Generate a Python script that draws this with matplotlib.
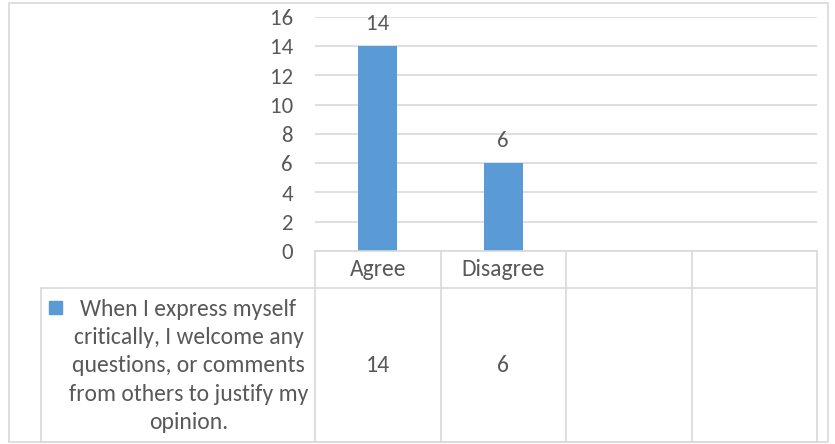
import matplotlib
matplotlib.use("Agg")
import matplotlib.pyplot as plt
from matplotlib import font_manager
from matplotlib.patches import Rectangle

categories = ["Agree", "Disagree", "", ""]
values = [14, 6]
series_name = ("When I express myself\ncritically, I welcome any\nquestions, or comments\n"
               "from others to justify my\nopinion.")
yticks = [0, 2, 4, 6, 8, 10, 12, 14, 16]

BLUE = "#5b9bd5"
GRID = "#d9d9d9"
TXT = "#595959"

installed = {f.name for f in font_manager.fontManager.ttflist}
fam = [f for f in ["Carlito", "Lato", "DejaVu Sans"] if f in installed]
plt.rcParams["font.family"] = fam

W, H = 835, 444


def frac(x0, y0, x1, y1):
    # pixel box (top-left origin) -> figure fraction rect
    return [x0 / W, 1 - y1 / H, (x1 - x0) / W, (y1 - y0) / H]


fig = plt.figure(figsize=(W / 100, H / 100), dpi=100)

# outer chart border
fig.add_artist(Rectangle((9 / W, 1 - 442 / H), (828 - 9) / W, (442 - 3) / H,
                         transform=fig.transFigure, fill=False,
                         edgecolor=GRID, lw=1.2))

# plot area
ax = fig.add_axes(frac(315, 17, 817, 251))
n = len(categories)
ax.bar(range(len(values)), values, width=0.31, color=BLUE, zorder=3)
ax.set_xlim(-0.5, n - 0.5)
ax.set_ylim(0, 16)
ax.set_yticks(yticks)
ax.set_xticks([])
for s in ax.spines.values():
    s.set_visible(False)
ax.yaxis.grid(True, color=GRID, lw=1.2)
ax.set_axisbelow(True)
ax.tick_params(axis="y", length=0, pad=16, labelsize=16.5, labelcolor=TXT)
for c in ax.containers:
    ax.bar_label(c, padding=9, fontsize=16.5, color=TXT)

# data table under the plot area
left_w = (315 - 41) / ((817 - 315) / n)
tax = fig.add_axes(frac(41, 251, 817, 442))
tax.set_xlim(-0.5 - left_w, n - 0.5)
tax.set_ylim(0, 1)
tax.axis("off")
hdr = 1 - (288 - 251) / (442 - 251)

kw = dict(color=GRID, lw=1.2, clip_on=False)
tax.plot([-0.5, n - 0.5], [1, 1], **kw)
tax.plot([-0.5 - left_w, n - 0.5], [hdr, hdr], **kw)
tax.plot([-0.5 - left_w, n - 0.5], [0, 0], **kw)
tax.plot([-0.5 - left_w, -0.5 - left_w], [0, hdr], **kw)
for i in range(n + 1):
    tax.plot([i - 0.5, i - 0.5], [0, 1], **kw)

for i, cat in enumerate(categories):
    tax.text(i, (1 + hdr) / 2, cat, ha="center", va="center",
             fontsize=17, color=TXT)
for i, v in enumerate(values):
    tax.text(i, hdr / 2, str(v), ha="center", va="center",
             fontsize=17, color=TXT)

# series key and name in the row header
sq_w = 13 / ((817 - 315) / n)
x0 = -0.5 - left_w + 8 / ((817 - 315) / n)
tax.add_patch(Rectangle((x0, hdr - 26 / 191), sq_w, 13 / 191,
                        color=BLUE, clip_on=False))
tax.text((x0 + sq_w - 0.5) / 2, hdr / 2 - 0.005, series_name, ha="center",
         va="center", fontsize=17, color=TXT, linespacing=1.42,
         multialignment="center")

fig.savefig("out.png", dpi=100)
